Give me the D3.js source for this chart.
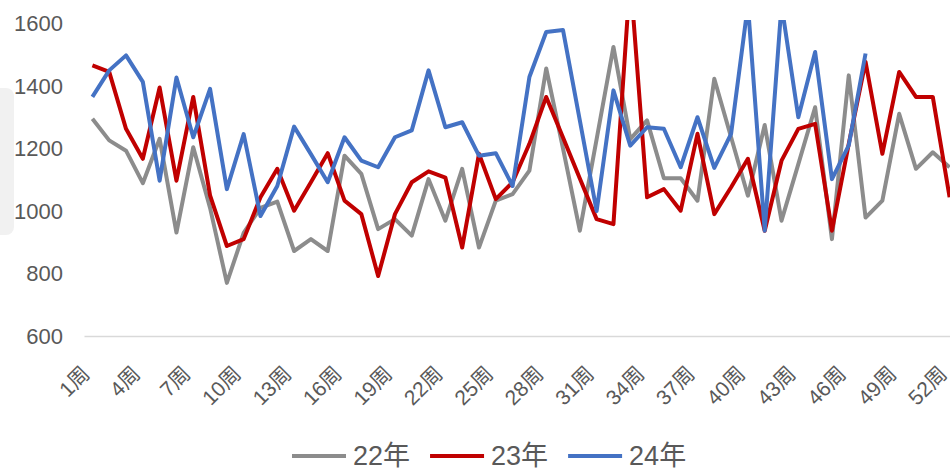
<!DOCTYPE html>
<html>
<head>
<meta charset="utf-8">
<script src="https://cdn.jsdelivr.net/npm/d3@7"></script>
<style>
  body { margin: 0; background: #fff; }
  svg { display: block; }
  text { font-family: "Liberation Sans", Arial, "Noto Sans CJK SC", sans-serif; fill: #595959; }
</style>
</head>
<body>
<div id="chart"></div>
<script>
// Chart data
const weeks = ["1周","2周","3周","4周","5周","6周","7周","8周","9周","10周",
    "11周","12周","13周","14周","15周","16周","17周","18周","19周","20周",
    "21周","22周","23周","24周","25周","26周","27周","28周","29周","30周",
    "31周","32周","33周","34周","35周","36周","37周","38周","39周","40周",
    "41周","42周","43周","44周","45周","46周","47周","48周","49周","50周",
    "51周","52周"];
const xTickLabels = ["1周","4周","7周","10周","13周","16周","19周","22周","25周",
    "28周","31周","34周","37周","40周","43周","46周","49周","52周"];
const yTicks = [600, 800, 1000, 1200, 1400, 1600];

const s22 = [1295, 1226, 1193, 1089, 1231, 931, 1204, 1010, 770, 930,
    1010, 1030, 872, 910, 872, 1177, 1119, 942, 974, 921,
    1102, 969, 1135, 883, 1033, 1054, 1129, 1456, 1200, 937,
    1230, 1525, 1230, 1290, 1105, 1105, 1033, 1423, 1236, 1049,
    1275, 969, 1150, 1332, 910, 1434, 979, 1033, 1311, 1135,
    1188, 1140];
const s23 = [1466, 1445, 1263, 1167, 1395, 1097, 1365, 1050, 888, 910,
    1044, 1135, 1001, 1092, 1185, 1033, 990, 792, 990, 1092,
    1127, 1107, 883, 1183, 1038, 1092, 1215, 1365, 1235, 1104,
    974, 958, 1750, 1044, 1070, 1001, 1247, 990, 1076, 1167,
    937, 1161, 1263, 1279, 937, 1215, 1477, 1183, 1445, 1365,
    1365, 1044];
const s24 = [1365, 1450, 1498, 1413, 1097, 1427, 1236, 1391, 1070, 1246,
    984, 1080, 1270, 1182, 1092, 1236, 1161, 1140, 1236, 1258,
    1450, 1268, 1284, 1177, 1185, 1080, 1429, 1573, 1579, 1290,
    1000, 1386, 1209, 1268, 1263, 1140, 1300, 1138, 1247, 1660,
    937, 1660, 1300, 1509, 1102, 1210, 1504];

const seriesNames = ["22年", "23年", "24年"];
const seriesColors = ["#8c8c8c", "#c00000", "#4472c4"];
const seriesData = [s22, s23, s24];

const width = 950, height = 471;

const svg = d3.select("#chart")
    .append("svg")
    .attr("width", width)
    .attr("height", height);

// faint grey shadow behind the left labels
svg.append("rect")
    .attr("x", -20).attr("y", 88)
    .attr("width", 34).attr("height", 147)
    .attr("rx", 8)
    .attr("fill", "#f1f1f1");

// Scales
const x = d3.scalePoint()
    .domain(weeks)
    .range([84, 958])
    .padding(0.5);

const y = d3.scaleLinear()
    .domain([600, 1600])
    .range([336, 23.5]);

// Y axis (labels only)
const yAxis = svg.append("g")
    .attr("transform", "translate(84,0)")
    .call(d3.axisLeft(y).tickValues(yTicks).tickFormat(d3.format("d")).tickSize(0).tickPadding(21));
yAxis.select(".domain").remove();
yAxis.selectAll("text")
    .style("font-size", "22px")
    .attr("fill", "#595959");

// X axis
const xAxis = svg.append("g")
    .attr("transform", "translate(0,336)")
    .call(d3.axisBottom(x).tickValues(xTickLabels).tickSize(0));
xAxis.select(".domain")
    .attr("stroke", "#d9d9d9")
    .attr("stroke-width", 1.5);
xAxis.selectAll("text")
    .attr("x", 0)
    .attr("y", 0)
    .attr("dy", "0.35em")
    .attr("text-anchor", "end")
    .attr("transform", "translate(-7,34) rotate(-45)")
    .style("font-size", "21px")
    .attr("fill", "#595959");

// Clip lines to plot area
svg.append("clipPath")
    .attr("id", "plot-clip")
    .append("rect")
    .attr("x", 80).attr("y", 20)
    .attr("width", 900).attr("height", 320);

const line = d3.line()
    .x((d, i) => x(weeks[i]))
    .y(d => y(d));

svg.append("g")
    .attr("clip-path", "url(#plot-clip)")
    .selectAll("path")
    .data(seriesData)
    .join("path")
    .attr("d", d => line(d))
    .attr("fill", "none")
    .attr("stroke", (d, i) => seriesColors[i])
    .attr("stroke-width", 4)
    .attr("stroke-linejoin", "round");

// Legend
const legend = svg.append("g").attr("transform", "translate(292,456)");
let lx = 0;
seriesNames.forEach((name, i) => {
    legend.append("line")
        .attr("x1", lx).attr("x2", lx + 54)
        .attr("y1", 0).attr("y2", 0)
        .attr("stroke", seriesColors[i])
        .attr("stroke-width", 4);
    const t = legend.append("text")
        .attr("x", lx + 61)
        .attr("y", 0)
        .attr("dy", "0.35em")
        .style("font-size", "27px")
        .attr("fill", "#595959")
        .text(name);
    lx += 61 + t.node().getComputedTextLength() + 20;
});
</script>
</body>
</html>
